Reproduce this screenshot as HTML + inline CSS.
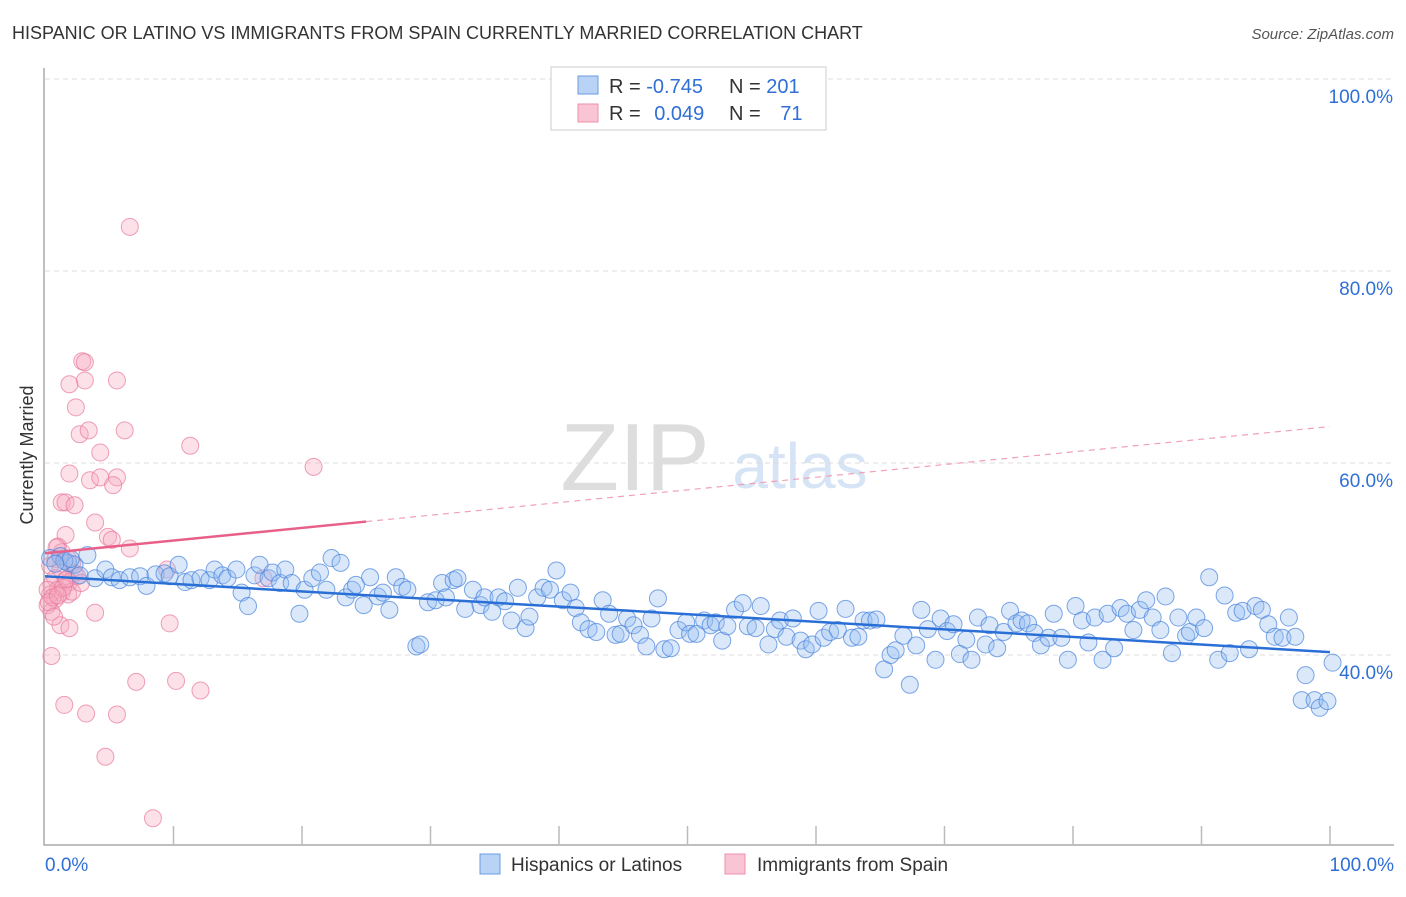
<!DOCTYPE html>
<html><head><meta charset="utf-8"><style>
body{margin:0;background:#fff;font-family:"Liberation Sans",sans-serif;}
svg text{font-family:"Liberation Sans",sans-serif;}
</style></head><body>
<svg id="chart" width="1406" height="892" xmlns="http://www.w3.org/2000/svg">
<text x="12" y="39" font-size="18" fill="#333">HISPANIC OR LATINO VS IMMIGRANTS FROM SPAIN CURRENTLY MARRIED CORRELATION CHART</text>
<text x="1394" y="39" font-size="15" fill="#555" font-style="italic" text-anchor="end">Source: ZipAtlas.com</text>
<text x="33" y="455" font-size="18" fill="#333" text-anchor="middle" transform="rotate(-90 33 455)">Currently Married</text>
<g><text x="635" y="490" font-size="96" fill="#ddd" font-family="Liberation Serif" text-anchor="middle">ZIP</text><text x="800" y="488" font-size="64" fill="#d6e4f5" text-anchor="middle">atlas</text></g>
<g id="grid"></g><g id="axes"></g><g id="pink"></g><g id="blue"></g><g id="lines"></g>
<g>
<rect x="551" y="67" width="275" height="63" fill="#fff" stroke="#ccc"/>
<rect x="578" y="76" width="20" height="18" fill="#b8d3f5" stroke="#6b9de0"/>
<rect x="578" y="104" width="20" height="18" fill="#f9c4d3" stroke="#ee8fab"/>
<text x="609" y="93" font-size="20" fill="#333">R = <tspan fill="#2f6fd6">-0.745</tspan></text>
<text x="729" y="93" font-size="20" fill="#333">N = <tspan fill="#2f6fd6">201</tspan></text>
<text x="609" y="120" font-size="20" fill="#333">R = <tspan fill="#2f6fd6" dx="8">0.049</tspan></text>
<text x="729" y="120" font-size="20" fill="#333">N = <tspan fill="#2f6fd6" dx="14">71</tspan></text>
</g>
<g>
<rect x="480" y="854" width="20" height="20" fill="#b8d3f5" stroke="#6b9de0"/>
<text x="511" y="871" font-size="19" fill="#333">Hispanics or Latinos</text>
<rect x="725" y="854" width="20" height="20" fill="#f9c4d3" stroke="#ee8fab"/>
<text x="757" y="871" font-size="19" fill="#333">Immigrants from Spain</text>
</g>
</svg>
<script>
const yTicks=[100,80,60,40];
const xTickLabels=["0.0%","100.0%"];
const blueX=[0.4,1.2,1.8,2.3,3.3,2.7,3.9,4.7,5.2,5.8,6.6,7.4,7.9,8.6,9.3,9.7,10.4,10.9,11.4,12.1,12.8,13.2,13.8,14.2,14.9,15.3,15.8,16.3,16.7,17.4,17.7,18.3,18.7,19.2,19.8,20.2,20.8,21.4,21.9,22.3,23.0,23.4,23.9,24.2,24.8,25.3,25.9,26.3,26.8,27.3,27.8,28.2,28.9,29.2,29.8,30.4,30.9,31.2,31.8,32.1,32.7,33.3,33.9,34.2,34.8,35.3,35.8,36.3,36.8,37.4,37.7,38.3,38.8,39.3,39.8,40.3,40.9,41.3,41.7,42.3,42.9,43.4,43.9,44.4,44.8,45.3,45.8,46.3,46.8,47.2,47.7,48.2,48.7,49.3,49.9,50.2,50.7,51.3,51.8,52.2,52.7,53.1,53.7,54.3,54.7,55.3,55.7,56.3,56.8,57.2,57.7,58.2,58.8,59.2,59.7,60.2,60.6,61.1,61.7,62.3,62.8,63.3,63.7,64.2,64.7,65.3,65.8,66.2,66.8,67.3,67.8,68.2,68.7,69.3,69.7,70.2,70.7,71.2,71.7,72.1,72.6,73.2,73.5,74.1,74.6,75.1,75.6,76.0,76.5,77.0,77.5,78.1,78.5,79.1,79.6,80.2,80.7,81.2,81.7,82.3,82.7,83.2,83.7,84.2,84.7,85.2,85.7,86.2,86.8,87.2,87.7,88.2,88.8,89.1,89.6,90.2,90.6,91.3,91.8,92.2,92.7,93.2,93.7,94.2,94.7,95.2,95.7,96.3,96.8,97.3,97.8,98.1,98.8,99.2,99.8,100.2,1.5,2.0,0.8];
const blueY=[50.1,50.3,49.6,49.4,50.4,48.3,48.0,48.9,48.1,47.8,48.1,48.2,47.2,48.4,48.5,48.2,49.4,47.6,47.8,48.0,47.8,48.9,48.3,48.0,48.9,46.5,45.1,48.3,49.4,48.0,48.6,47.5,48.9,47.5,44.3,46.8,48.0,48.6,46.8,50.1,49.6,46.0,46.8,47.3,45.2,48.1,46.1,46.5,44.7,48.1,47.1,46.8,40.9,41.1,45.5,45.7,47.5,46.0,47.8,48.0,44.8,46.8,45.2,46.0,44.5,46.0,45.6,43.6,47.0,42.8,44.0,46.0,47.0,46.8,48.8,45.7,46.5,44.9,43.4,42.7,42.4,45.7,44.3,42.1,42.2,43.8,43.1,42.1,40.9,43.8,45.9,40.6,40.7,42.6,43.4,42.2,42.2,43.6,43.1,43.4,41.5,43.0,44.7,45.4,43.0,42.8,45.1,41.1,42.7,43.6,41.9,43.8,41.5,40.6,41.1,44.6,41.8,42.4,42.6,44.8,41.8,41.9,43.6,43.6,43.7,38.5,40.0,40.5,42.0,36.9,41.0,44.7,42.7,39.5,43.8,42.5,43.2,40.1,41.6,39.5,43.9,41.1,43.1,40.7,42.4,44.6,43.3,43.6,43.3,42.3,41.0,41.8,44.3,41.8,39.5,45.1,43.6,41.3,43.9,39.5,44.3,40.7,44.9,44.3,42.6,44.7,45.7,43.9,42.6,46.1,40.2,43.9,42.0,42.4,43.9,42.8,48.1,39.5,46.2,40.2,44.4,44.6,40.6,45.1,44.7,43.2,41.9,41.8,43.9,41.9,35.3,37.9,35.3,34.5,35.2,39.2,49.8,50.0,49.5];
const pinkX=[6.6,2.9,3.1,3.1,5.6,1.9,2.4,2.7,3.4,6.2,11.3,4.3,20.9,1.9,3.5,4.3,5.6,5.3,1.3,1.6,2.3,3.9,1.6,4.9,5.2,6.6,1.0,1.3,0.8,1.8,2.1,0.4,1.2,2.3,0.8,1.6,1.9,0.5,1.0,1.3,0.4,1.8,2.1,0.8,0.2,0.5,3.9,9.7,1.2,1.9,0.5,7.1,10.2,12.1,1.5,3.2,5.6,4.7,8.4,9.5,17.0,0.9,0.2,0.6,1.4,2.5,0.3,1.0,1.7,0.7,2.8];
const pinkY=[84.6,70.6,70.5,68.6,68.6,68.2,65.8,63.0,63.4,63.4,61.8,61.1,59.6,58.9,58.2,58.5,58.5,57.7,55.9,55.9,55.6,53.8,52.5,52.3,52.0,51.1,51.3,50.7,50.0,50.0,49.5,49.3,49.0,48.5,48.0,47.8,47.6,47.3,46.8,46.5,46.3,46.3,46.6,45.8,45.2,44.5,44.4,43.3,43.1,42.8,39.9,37.2,37.3,36.3,34.8,33.9,33.8,29.4,23.0,48.9,48.0,51.2,46.8,46.0,47.0,48.2,45.5,46.2,47.9,44.0,47.5];
const blueTrend=[48.2,40.3];
const pinkTrend=[50.6,63.8];
const NS="http://www.w3.org/2000/svg";
const X0=45,X1=1330,Y100=79,PXPER=9.6;
function xs(v){return X0+(X1-X0)*v/100;}
function ys(v){return Y100+(100-v)*PXPER;}
function mk(tag,attrs,parent){const e=document.createElementNS(NS,tag);for(const k in attrs)e.setAttribute(k,attrs[k]);document.getElementById(parent).appendChild(e);return e;}
yTicks.forEach(t=>{
 const l=mk('line',{x1:45,x2:1394,y1:ys(t),y2:ys(t),stroke:'#ddd','stroke-dasharray':'5,4'},'grid');
 
 
 const tx=mk('text',{x:1393,y:ys(t)+24,'font-size':19,fill:'#2f6fd6','text-anchor':'end'},'grid');
 
 
 tx.textContent=t.toFixed(1)+'%';
});
const ax=mk('path',{d:`M44 68V845H1394`,fill:'none',stroke:'#aaa','stroke-width':1.5},'axes');


for(let i=1;i<=10;i++){
 const t=mk('line',{x1:xs(i*10),x2:xs(i*10),y1:826,y2:845,stroke:'#bbb','stroke-width':1.5},'axes');
 
 
}
[[0,'start',45],[100,'end',1394]].forEach((d,i)=>{
 const tx=mk('text',{x:d[2],y:871,'font-size':19,fill:'#2f6fd6','text-anchor':d[1]},'axes');
 
 
 tx.textContent=xTickLabels[i];
});
pinkX.forEach((v,i)=>{
 const c=mk('circle',{cx:xs(v),cy:ys(pinkY[i]),r:8.5,fill:'rgba(246,168,192,0.35)',stroke:'rgba(232,120,155,0.7)','stroke-width':1},'pink');
 
 
});
blueX.forEach((v,i)=>{
 const c=mk('circle',{cx:xs(v),cy:ys(blueY[i]),r:8.5,fill:'rgba(150,190,240,0.35)',stroke:'rgba(70,130,220,0.7)','stroke-width':1},'blue');
 
 
});
const pm=pinkTrend[0]+(pinkTrend[1]-pinkTrend[0])*25/100;
const p1=mk('line',{x1:xs(0),y1:ys(pinkTrend[0]),x2:xs(25),y2:ys(pm),stroke:'#e8608a','stroke-width':2.5},'lines');


const p2=mk('line',{x1:xs(25),y1:ys(pm),x2:xs(100),y2:ys(pinkTrend[1]),stroke:'#f0a0b8','stroke-width':1.2,'stroke-dasharray':'6,5'},'lines');


const b=mk('line',{x1:xs(0),y1:ys(blueTrend[0]),x2:xs(100),y2:ys(blueTrend[1]),stroke:'#2a6fd6','stroke-width':2.5},'lines');


</script>
</body></html>
